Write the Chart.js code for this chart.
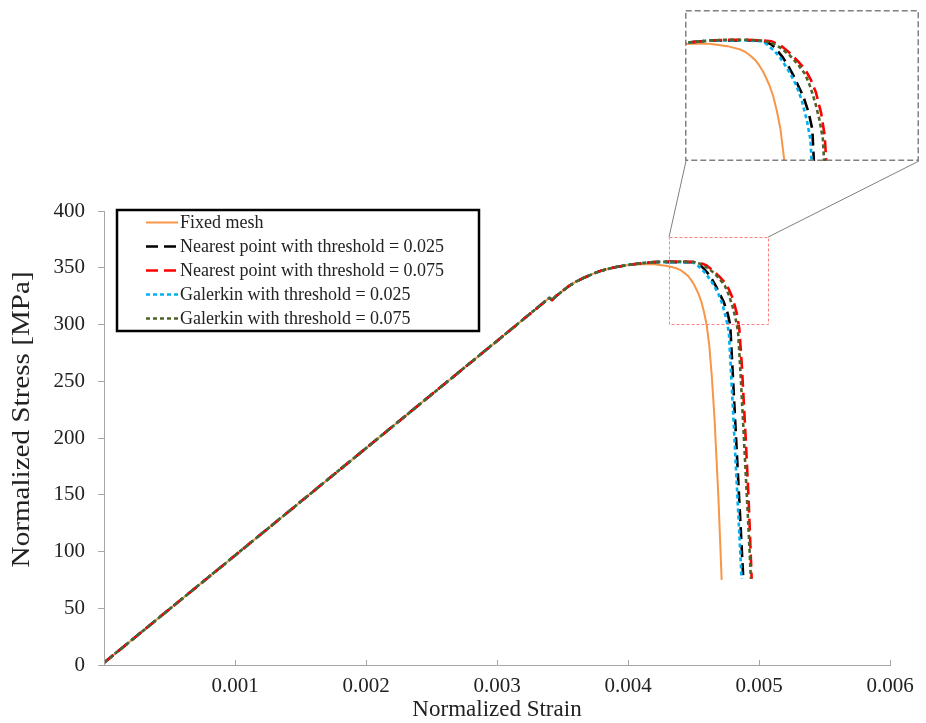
<!DOCTYPE html>
<html>
<head>
<meta charset="utf-8">
<script src="https://cdn.jsdelivr.net/npm/chart.js@4.4.1/dist/chart.umd.min.js"></script>
<style>
  html, body { margin: 0; padding: 0; background: #fff; }
  #wrap { position: relative; width: 926px; height: 723px; }
  #main { position: absolute; left: 0; top: 0; }
  #zoom { position: absolute; left: 685px; top: 10px; }
</style>
</head>
<body>
<div id="wrap">
  <canvas id="main" width="926" height="723"></canvas>
  <canvas id="zoom" width="234" height="151"></canvas>
</div>
<script>
// Elastic + hardening branch, common to every run
const elasticStrain = [0, 0.001, 0.002, 0.003, 0.0034, 0.00342, 0.00345, 0.0035, 0.00355, 0.0036, 0.00365, 0.0037, 0.00375, 0.0038, 0.0039, 0.0040];
const elasticStress = [2, 96.5, 191, 285.5, 323.5, 321.5, 325, 329.5, 334, 337.5, 340.5, 343, 345.5, 347.5, 350.5, 352.5];

// Softening branches
const fixedStrain = [0.0041, 0.0042, 0.0043, 0.00437, 0.0044, 0.00443, 0.00446, 0.00448, 0.0045, 0.00452, 0.00454, 0.00456, 0.00458, 0.0046, 0.00462, 0.00464, 0.00466, 0.00469, 0.004715];
const fixedStress = [353, 353, 351.5, 349.5, 348, 345.5, 342.5, 339.5, 336, 331.5, 326.5, 320, 311, 300, 282, 254, 218, 148, 75];

const nearest025Strain = [0.0041, 0.0042, 0.0043, 0.0044, 0.0045, 0.00455, 0.00458, 0.00461, 0.00464, 0.00467, 0.0047, 0.00473, 0.00476, 0.00478, 0.0048, 0.00484, 0.00488];
const nearest025Stress = [354, 355, 355, 355, 355, 352.5, 349, 345, 340, 334, 327, 320, 310, 300, 256, 166, 76];

const nearest075Strain = [0.0041, 0.0042, 0.0043, 0.0044, 0.0045, 0.00455, 0.0046, 0.00465, 0.0047, 0.00474, 0.00477, 0.0048, 0.00483, 0.00485, 0.00487, 0.0049, 0.00492, 0.004944];
const nearest075Stress = [354, 355, 355.5, 355.5, 355, 354.5, 352, 347.5, 342, 337, 331, 323, 310, 296, 262, 196, 148, 76];

const galerkin025Strain = [0.0041, 0.0042, 0.0043, 0.0044, 0.0045, 0.00453, 0.00457, 0.0046, 0.00463, 0.00466, 0.00469, 0.00472, 0.00475, 0.00477, 0.0048, 0.00483, 0.004867];
const galerkin025Stress = [354, 355, 355, 355, 354.5, 352, 348, 344, 339, 333.5, 327, 318, 305, 293, 228, 160, 76];

const galerkin075Strain = [0.0041, 0.0042, 0.0043, 0.0044, 0.0045, 0.00455, 0.0046, 0.00465, 0.0047, 0.00474, 0.00477, 0.0048, 0.00482, 0.00484, 0.00486, 0.00489, 0.00492, 0.004938];
const galerkin075Stress = [354, 355, 355.5, 355.5, 355, 353.5, 350.5, 346, 340, 334, 326, 315, 306, 294, 255, 188, 120, 76];

const seriesNames = [
  'Fixed mesh',
  'Nearest point with threshold = 0.025',
  'Nearest point with threshold = 0.075',
  'Galerkin with threshold = 0.025',
  'Galerkin with threshold = 0.075'
];

const strainTicks = [0, 0.001, 0.002, 0.003, 0.004, 0.005, 0.006];
const strainTickLabels = ['', '0.001', '0.002', '0.003', '0.004', '0.005', '0.006'];
const stressTicks = [0, 50, 100, 150, 200, 250, 300, 350, 400];

// Region shown magnified in the inset
const detailWindow = { xMin: 0.004313, xMax: 0.005069, yMin: 300, yMax: 377 };
const insetRange = { xMin: 0.00406, xMax: 0.005384, yMin: 280, yMax: 374 };

function curve(xs, ys) {
  const sx = elasticStrain.concat(xs);
  const sy = elasticStress.concat(ys);
  return sx.map((x, i) => ({ x: x, y: sy[i] }));
}

const styles = [
  { color: '#F79646', dash: [], width: 2, order: 5 },
  { color: '#000000', dash: [12, 6], width: 2.6, order: 4 },
  { color: '#FF0000', dash: [12, 6], width: 2.6, order: 3 },
  { color: '#00B0F0', dash: [4, 3], width: 2.6, order: 2 },
  { color: '#4F6228', dash: [4, 3], width: 2.6, order: 1 }
];

const curves = [
  curve(fixedStrain, fixedStress),
  curve(nearest025Strain, nearest025Stress),
  curve(nearest075Strain, nearest075Stress),
  curve(galerkin025Strain, galerkin025Stress),
  curve(galerkin075Strain, galerkin075Stress)
];

function makeDatasets(clip) {
  return curves.map((pts, i) => ({
    label: seriesNames[i],
    data: pts,
    borderColor: styles[i].color,
    backgroundColor: styles[i].color,
    borderDash: styles[i].dash,
    borderWidth: styles[i].width,
    order: styles[i].order,
    pointRadius: 0,
    fill: false,
    tension: 0,
    borderJoinStyle: 'round',
    clip: clip
  }));
}

const serif = '"Liberation Serif", "Times New Roman", serif';
const axisGrey = '#a6a6a6';
const textColor = '#222222';

// Short tick marks pointing into the plot along the strain axis
const innerTicks = {
  id: 'innerTicks',
  afterDatasetsDraw(chart) {
    const ctx = chart.ctx, xs = chart.scales.x, a = chart.chartArea;
    ctx.save();
    ctx.strokeStyle = axisGrey;
    ctx.lineWidth = 1;
    strainTicks.forEach(v => {
      const px = Math.round(xs.getPixelForValue(v)) + 0.5;
      ctx.beginPath();
      ctx.moveTo(px, a.bottom);
      ctx.lineTo(px, a.bottom - 5);
      ctx.stroke();
    });
    ctx.restore();
  }
};

// Dashed window on the curves plus the leader lines to the inset
const detailMarker = {
  id: 'detailMarker',
  afterDatasetsDraw(chart) {
    const ctx = chart.ctx, xs = chart.scales.x, ys = chart.scales.y;
    const l = xs.getPixelForValue(detailWindow.xMin), r = xs.getPixelForValue(detailWindow.xMax);
    const t = ys.getPixelForValue(detailWindow.yMax), b = ys.getPixelForValue(detailWindow.yMin);
    ctx.save();
    ctx.strokeStyle = '#ff8080';
    ctx.lineWidth = 1;
    ctx.setLineDash([3, 2]);
    ctx.strokeRect(Math.round(l) + 0.5, Math.round(t) + 0.5, Math.round(r - l), Math.round(b - t));
    ctx.setLineDash([]);
    ctx.strokeStyle = '#7f7f7f';
    ctx.beginPath();
    ctx.moveTo(l, t); ctx.lineTo(686, 161);
    ctx.moveTo(r, t); ctx.lineTo(919, 161);
    ctx.stroke();
    ctx.restore();
  }
};

// Boxed legend in the upper-left of the plot, and the stress-axis title
const boxLegend = {
  id: 'boxLegend',
  afterDraw(chart) {
    const ctx = chart.ctx, a = chart.chartArea;
    const x0 = a.left + 13, y0 = a.top - 1, w = 362, h = 121;
    ctx.save();
    ctx.fillStyle = '#ffffff';
    ctx.fillRect(x0, y0, w, h);
    ctx.strokeStyle = '#000000';
    ctx.lineWidth = 2.5;
    ctx.strokeRect(x0, y0, w, h);
    ctx.font = '18px ' + serif;
    ctx.textBaseline = 'middle';
    chart.data.datasets.forEach((ds, i) => {
      const y = y0 + 12.5 + i * 24;
      ctx.strokeStyle = ds.borderColor;
      ctx.lineWidth = ds.borderWidth;
      ctx.setLineDash(ds.borderDash);
      ctx.beginPath();
      ctx.moveTo(x0 + 29, y);
      ctx.lineTo(x0 + 61, y);
      ctx.stroke();
      ctx.setLineDash([]);
      ctx.fillStyle = textColor;
      ctx.fillText(ds.label, x0 + 63, y + 1);
    });
    ctx.restore();

    ctx.save();
    ctx.translate(22, a.top + (a.bottom - a.top) * 0.459);
    ctx.rotate(-Math.PI / 2);
    ctx.scale(1.12, 1);
    ctx.font = '26px ' + serif;
    ctx.fillStyle = textColor;
    ctx.textAlign = 'center';
    ctx.textBaseline = 'middle';
    ctx.fillText('Normalized Stress [MPa]', 0, 0);
    ctx.restore();
  }
};

new Chart(document.getElementById('main'), {
  type: 'line',
  data: { datasets: makeDatasets(undefined) },
  options: {
    responsive: false,
    devicePixelRatio: 1,
    animation: false,
    layout: { padding: { top: 211, right: 36, bottom: 0, left: 0 } },
    plugins: { legend: { display: false }, tooltip: { enabled: false } },
    scales: {
      x: {
        type: 'linear',
        min: 0,
        max: 0.006,
        afterFit: s => { s.height = 58; },
        afterBuildTicks: s => { s.ticks = strainTicks.map(v => ({ value: v })); },
        grid: { display: true, drawOnChartArea: false, drawTicks: false, color: axisGrey },
        border: { display: true, color: axisGrey, width: 1 },
        ticks: {
          padding: 9,
          color: textColor,
          font: { family: serif, size: 21 },
          maxRotation: 0,
          autoSkip: false,
          callback: (v, i) => strainTickLabels[i]
        },
        title: {
          display: true,
          text: 'Normalized Strain',
          color: textColor,
          font: { family: serif, size: 23 },
          padding: { top: 0, bottom: -1 }
        }
      },
      y: {
        type: 'linear',
        min: 0,
        max: 400,
        afterFit: s => { s.width = 104; },
        afterBuildTicks: s => { s.ticks = stressTicks.map(v => ({ value: v })); },
        grid: { display: true, drawOnChartArea: false, drawTicks: true, tickLength: 6, color: axisGrey },
        border: { display: true, color: axisGrey, width: 1 },
        ticks: {
          padding: 13,
          color: textColor,
          font: { family: serif, size: 21 },
          autoSkip: false,
          callback: v => String(v)
        },
        title: { display: false }
      }
    }
  },
  plugins: [innerTicks, detailMarker, boxLegend]
});

// Dashed frame around the magnified view
const insetFrame = {
  id: 'insetFrame',
  afterDraw(chart) {
    const ctx = chart.ctx;
    ctx.save();
    ctx.strokeStyle = '#808080';
    ctx.lineWidth = 1.5;
    ctx.setLineDash([6, 3]);
    ctx.strokeRect(0.75, 0.75, chart.width - 1.5, chart.height - 1.5);
    ctx.restore();
  }
};

new Chart(document.getElementById('zoom'), {
  type: 'line',
  data: { datasets: makeDatasets(0) },
  options: {
    responsive: false,
    devicePixelRatio: 1,
    animation: false,
    layout: { padding: 0 },
    plugins: { legend: { display: false }, tooltip: { enabled: false } },
    scales: {
      x: { type: 'linear', display: false, min: insetRange.xMin, max: insetRange.xMax },
      y: { type: 'linear', display: false, min: insetRange.yMin, max: insetRange.yMax }
    }
  },
  plugins: [insetFrame]
});
</script>
</body>
</html>
